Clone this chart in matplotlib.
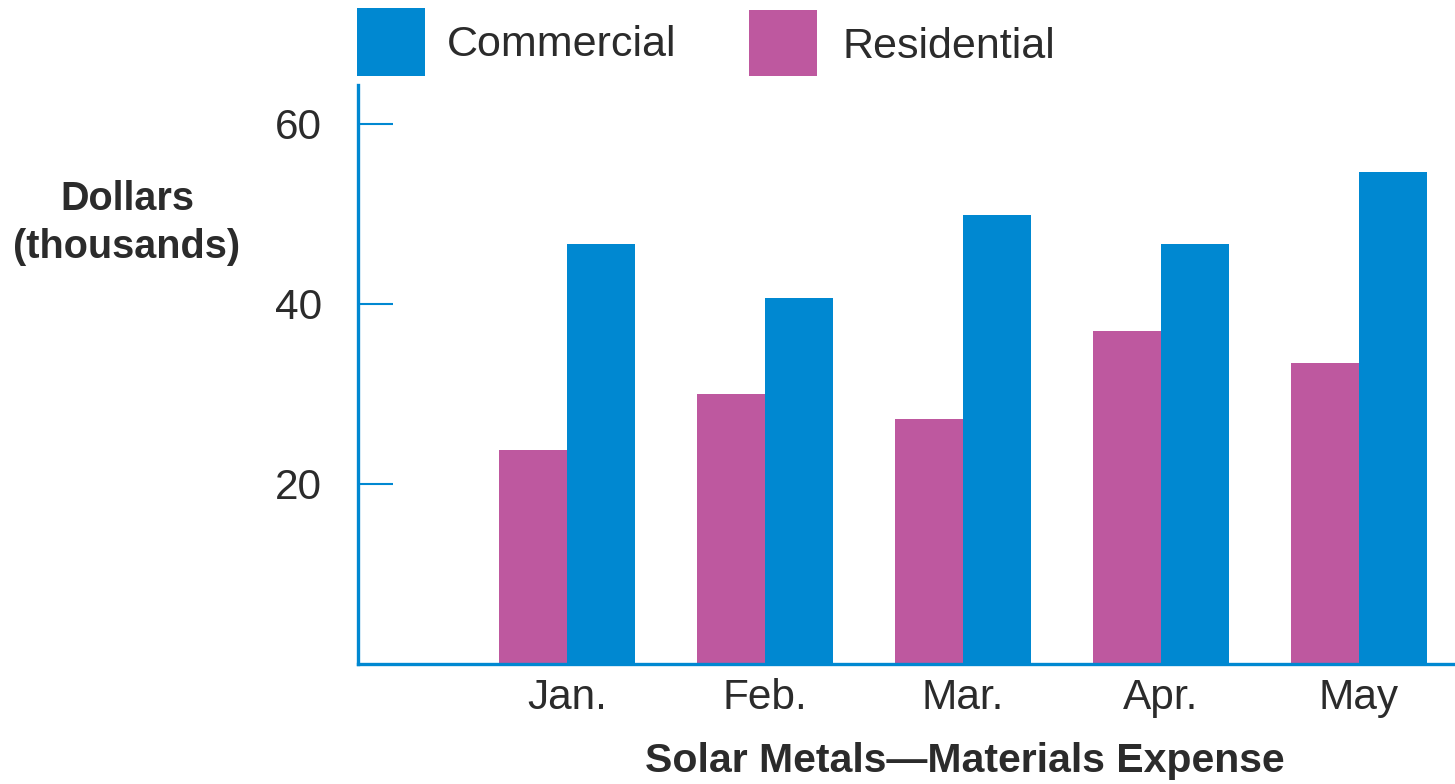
import matplotlib
matplotlib.use("Agg")
import matplotlib.pyplot as plt
from matplotlib.patches import Rectangle
import numpy as np

months = ["Jan.", "Feb.", "Mar.", "Apr.", "May"]
residential = [23.8, 30.0, 27.2, 37.0, 33.4]
commercial = [46.6, 40.6, 49.9, 46.6, 54.6]
y_ticks = [20, 40, 60]

BLUE = "#0088D1"
PINK = "#BE589F"
TEXT = "#2B2B2B"

plt.rcParams["font.family"] = ["Liberation Sans", "DejaVu Sans"]

fig = plt.figure(figsize=(14.55, 7.84), dpi=100)
ax = fig.add_axes([358 / 1455, 1 - 664 / 784, 1 - 358 / 1455, (664 - 85) / 784])

x = np.arange(len(months))
w = 0.343
ax.bar(x - w / 2, residential, width=w, color=PINK, linewidth=0)
ax.bar(x + w / 2, commercial, width=w, color=BLUE, linewidth=0)

ax.set_xlim(-1.056, 4.485)
ax.set_ylim(0, 64.3)

for side in ("top", "right"):
    ax.spines[side].set_visible(False)
for side in ("left", "bottom"):
    ax.spines[side].set_color(BLUE)
    ax.spines[side].set_linewidth(2.4)

ax.set_yticks(y_ticks)
ax.set_yticklabels([str(t) for t in y_ticks], fontsize=30.5, color=TEXT)
ax.tick_params(axis="y", direction="in", length=25, width=1.5, color=BLUE, pad=26)
ax.set_xticks(x)
ax.set_xticklabels(months, fontsize=30.5, color=TEXT)
ax.tick_params(axis="x", length=0, pad=10)

ax.set_xlabel("Solar Metals\u2014Materials Expense", fontsize=29.5, fontweight="bold",
              color=TEXT)
ax.xaxis.set_label_coords((965 - 358) / (1455 - 358), -(761 - 664) / (664 - 85))
ax.xaxis.label.set_va("center")

fig.text(127 / 1455, 1 - 223 / 784, "Dollars\n(thousands)", fontsize=28.5,
         fontweight="bold", color=TEXT, ha="center", va="center",
         multialignment="center", linespacing=1.32)

# legend swatches and labels
def px_rect(x0, y0, x1, y1, color):
    fig.patches.append(Rectangle((x0 / 1455, 1 - y1 / 784), (x1 - x0) / 1455,
                                 (y1 - y0) / 784, transform=fig.transFigure,
                                 color=color, linewidth=0))

px_rect(357, 8, 425, 76, BLUE)
px_rect(749, 10, 817, 76, PINK)
fig.text(447 / 1455, 1 - 45 / 784, "Commercial", fontsize=31, color=TEXT,
         ha="left", va="center")
fig.text(842 / 1455, 1 - 47 / 784, "Residential", fontsize=31, color=TEXT,
         ha="left", va="center")

fig.savefig("out.png", dpi=100)
